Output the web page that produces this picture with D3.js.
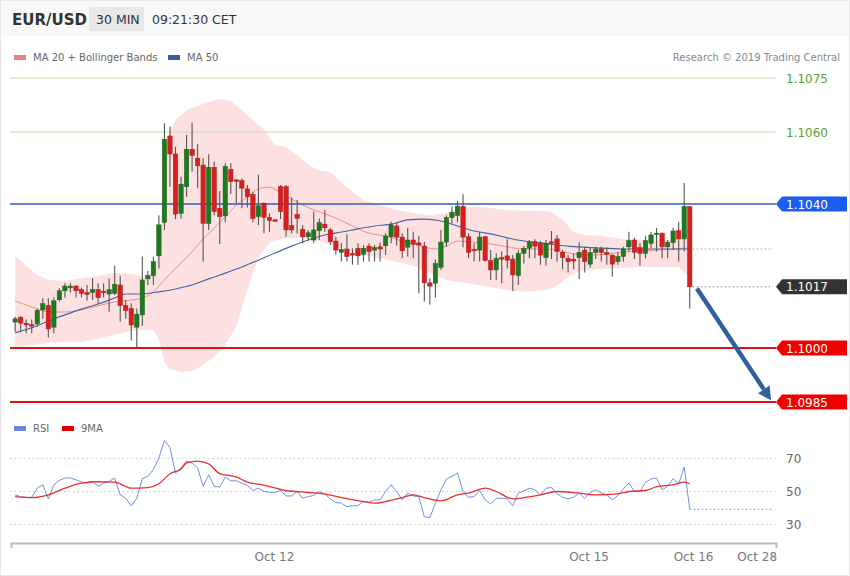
<!DOCTYPE html>
<html><head><meta charset="utf-8">
<script src="https://cdn.jsdelivr.net/npm/d3@7/dist/d3.min.js"></script>
<style>
html,body{margin:0;padding:0;background:#fff;}
svg{display:block;font-family:"DejaVu Sans",sans-serif;}
</style></head>
<body><svg id="c" width="850" height="576"></svg>
<script>
// ---------- DATA ----------
const openP = [
1.10072,1.10085,1.10069,1.10065,1.10067,1.10106,1.10118,1.10058,1.10134,1.10159,
1.10167,1.10172,1.10162,1.10154,1.10154,1.10162,1.10158,1.10150,1.10152,1.10175,
1.10118,1.10110,1.10058,1.10092,1.10192,1.10201,1.10256,1.10349,1.10589,1.10539,
1.10374,1.10448,1.10552,1.10527,1.10508,1.10346,1.10502,1.10388,1.10367,1.10496,
1.10467,1.10465,1.10442,1.10427,1.10365,1.10402,1.10363,1.10356,1.10448,1.10448,
1.10340,1.10371,1.10330,1.10309,1.10300,1.10326,1.10344,1.10328,1.10297,1.10266,
1.10275,1.10263,1.10277,1.10260,1.10283,1.10272,1.10281,1.10284,1.10309,1.10339,
1.10308,1.10280,1.10300,1.10292,1.10283,1.10181,1.10180,1.10224,1.10294,1.10362,
1.10368,1.10393,1.10309,1.10274,1.10272,1.10309,1.10243,1.10217,1.10251,1.10256,
1.10247,1.10201,1.10263,1.10277,1.10295,1.10291,1.10251,1.10295,1.10303,1.10266,
1.10249,1.10246,1.10251,1.10272,1.10233,1.10265,1.10275,1.10265,1.10258,1.10240,
1.10254,1.10281,1.10300,1.10279,1.10263,1.10291,1.10318,1.10319,1.10281,1.10293,
1.10326,1.10303,1.10393];
const highP = [
1.10087,1.10089,1.10079,1.10079,1.10110,1.10138,1.10138,1.10140,1.10166,1.10180,
1.10180,1.10175,1.10168,1.10175,1.10194,1.10180,1.10180,1.10194,1.10229,1.10201,
1.10133,1.10124,1.10110,1.10254,1.10214,1.10254,1.10369,1.10624,1.10615,1.10559,
1.10476,1.10592,1.10626,1.10566,1.10527,1.10538,1.10518,1.10436,1.10513,1.10513,
1.10469,1.10471,1.10453,1.10434,1.10481,1.10405,1.10374,1.10357,1.10453,1.10453,
1.10418,1.10411,1.10342,1.10328,1.10379,1.10360,1.10383,1.10333,1.10309,1.10291,
1.10316,1.10277,1.10291,1.10286,1.10291,1.10286,1.10293,1.10319,1.10351,1.10349,
1.10319,1.10334,1.10323,1.10312,1.10295,1.10194,1.10246,1.10328,1.10369,1.10393,
1.10408,1.10427,1.10319,1.10291,1.10323,1.10311,1.10272,1.10263,1.10268,1.10302,
1.10258,1.10272,1.10283,1.10300,1.10302,1.10297,1.10300,1.10325,1.10314,1.10272,
1.10258,1.10263,1.10294,1.10281,1.10279,1.10281,1.10281,1.10279,1.10260,1.10266,
1.10281,1.10323,1.10306,1.10291,1.10312,1.10323,1.10333,1.10321,1.10300,1.10333,
1.10351,1.10458,1.10393];
const lowP = [
1.10045,1.10044,1.10041,1.10041,1.10059,1.10081,1.10029,1.10041,1.10129,1.10140,
1.10154,1.10140,1.10140,1.10131,1.10133,1.10121,1.10140,1.10101,1.10147,1.10073,
1.10081,1.10021,1.10000,1.10062,1.10175,1.10175,1.10221,1.10328,1.10448,1.10358,
1.10360,1.10420,1.10490,1.10444,1.10240,1.10328,1.10369,1.10289,1.10349,1.10428,
1.10402,1.10388,1.10390,1.10349,1.10342,1.10319,1.10323,1.10354,1.10358,1.10309,
1.10319,1.10319,1.10291,1.10297,1.10291,1.10300,1.10323,1.10286,1.10260,1.10240,
1.10240,1.10231,1.10231,1.10240,1.10240,1.10240,1.10240,1.10258,1.10291,1.10284,
1.10249,1.10254,1.10249,1.10152,1.10129,1.10121,1.10140,1.10217,1.10281,1.10346,
1.10349,1.10280,1.10249,1.10240,1.10240,1.10240,1.10189,1.10189,1.10180,1.10221,
1.10158,1.10175,1.10235,1.10249,1.10249,1.10231,1.10229,1.10247,1.10240,1.10219,
1.10210,1.10219,1.10192,1.10210,1.10223,1.10247,1.10240,1.10231,1.10198,1.10231,
1.10240,1.10268,1.10247,1.10229,1.10249,1.10277,1.10268,1.10249,1.10249,1.10272,
1.10240,1.10268,1.10110];
const closeP = [
1.10081,1.10069,1.10064,1.10062,1.10104,1.10123,1.10053,1.10131,1.10159,1.10172,
1.10172,1.10159,1.10152,1.10149,1.10162,1.10140,1.10155,1.10162,1.10177,1.10118,
1.10104,1.10064,1.10094,1.10189,1.10201,1.10240,1.10342,1.10580,1.10539,1.10372,
1.10455,1.10552,1.10535,1.10506,1.10346,1.10502,1.10379,1.10365,1.10504,1.10462,
1.10464,1.10444,1.10420,1.10360,1.10395,1.10363,1.10354,1.10355,1.10379,1.10328,
1.10328,1.10360,1.10309,1.10320,1.10328,1.10348,1.10334,1.10295,1.10272,1.10274,
1.10254,1.10258,1.10256,1.10277,1.10268,1.10279,1.10275,1.10311,1.10342,1.10308,
1.10270,1.10300,1.10288,1.10286,1.10181,1.10172,1.10235,1.10294,1.10362,1.10377,
1.10394,1.10308,1.10266,1.10271,1.10308,1.10243,1.10217,1.10249,1.10250,1.10244,
1.10203,1.10263,1.10277,1.10294,1.10283,1.10258,1.10291,1.10291,1.10268,1.10251,
1.10240,1.10243,1.10266,1.10240,1.10265,1.10275,1.10265,1.10260,1.10233,1.10254,
1.10275,1.10298,1.10266,1.10263,1.10298,1.10314,1.10319,1.10281,1.10293,1.10325,
1.10303,1.10393,1.10170];

// MA 20: [candle index, price]
const ma20 = [[0,1.10131],[3,1.10114],[6,1.10100],[9,1.10100],[12,1.10106],[15,1.10117],[18,1.10128],[21,1.10133],[23,1.10139],[25,1.10156],[26,1.10172],[28,1.10206],[30,1.10236],[32,1.10267],[34,1.10303],[36,1.10333],[38,1.10364],[40,1.10397],[42,1.10419],[44,1.10442],[46,1.10447],[48,1.10431],[50,1.10414],[52,1.10397],[55,1.10378],[58,1.10361],[61,1.10339],[64,1.10319],[67,1.10311],[70,1.10297],[73,1.10286],[76,1.10275],[78,1.10283],[80,1.10297],[83,1.10294],[86,1.10289],[89,1.10281],[92,1.10275],[95,1.10275],[98,1.10272],[101,1.10261],[104,1.10258],[107,1.10261],[110,1.10267],[113,1.10269],[116,1.10272],[119,1.10275],[122,1.10278]];
// Bollinger bands
const bbUpper = [[0,1.10256],[2,1.10228],[4,1.10203],[6,1.10189],[9,1.10186],[12,1.10194],[15,1.10200],[18,1.10208],[21,1.10206],[23,1.10200],[25,1.10210],[26,1.10272],[27,1.10508],[28,1.10606],[29,1.10633],[31,1.10661],[33,1.10672],[35,1.10683],[37,1.10692],[39,1.10686],[41,1.10661],[43,1.10633],[45,1.10606],[47,1.10564],[49,1.10558],[51,1.10536],[53,1.10508],[55,1.10494],[57,1.10489],[59,1.10461],[61,1.10433],[63,1.10411],[66,1.10397],[69,1.10383],[72,1.10375],[75,1.10369],[78,1.10375],[80,1.10389],[83,1.10392],[86,1.10389],[89,1.10383],[92,1.10381],[95,1.10381],[97,1.10378],[99,1.10356],[101,1.10322],[103,1.10314],[106,1.10311],[110,1.10303],[114,1.10300],[118,1.10300],[121,1.10306],[122,1.10300]];
const bbLower = [[0,1.10003],[3,1.10008],[6,1.10014],[9,1.10017],[12,1.10017],[15,1.10025],[18,1.10036],[21,1.10047],[23,1.10050],[25,1.10050],[26,1.10022],[27,1.09961],[28,1.09942],[30,1.09933],[32,1.09936],[34,1.09953],[36,1.09975],[38,1.10008],[40,1.10060],[42,1.10161],[44,1.10250],[46,1.10294],[48,1.10303],[51,1.10306],[54,1.10300],[57,1.10289],[60,1.10272],[63,1.10258],[66,1.10250],[69,1.10239],[72,1.10228],[75,1.10208],[78,1.10189],[81,1.10181],[84,1.10175],[87,1.10167],[90,1.10158],[93,1.10156],[96,1.10161],[98,1.10172],[100,1.10197],[102,1.10214],[105,1.10219],[109,1.10222],[113,1.10225],[117,1.10225],[120,1.10225],[122,1.10194]];
// MA 50
const ma50 = [[0,1.10042],[3,1.10056],[6,1.10075],[9,1.10092],[12,1.10108],[15,1.10122],[18,1.10139],[20,1.10150],[23,1.10150],[26,1.10156],[29,1.10164],[32,1.10175],[35,1.10192],[38,1.10208],[41,1.10225],[44,1.10244],[47,1.10264],[50,1.10283],[53,1.10300],[56,1.10314],[59,1.10322],[62,1.10331],[65,1.10339],[68,1.10344],[71,1.10356],[74,1.10358],[77,1.10353],[80,1.10339],[83,1.10325],[86,1.10317],[89,1.10306],[92,1.10297],[95,1.10292],[100,1.10283],[105,1.10278],[110,1.10275],[116,1.10275],[122,1.10275]];

// RSI (one value per candle) and its 9-period MA (read at sampled candles)
const rsi = [
48.0,46.9,46.5,46.5,52.0,54.1,45.5,54.1,56.7,58.2,
58.2,57.1,55.7,55.1,56.1,53.1,55.1,56.1,58.2,48.0,
45.9,41.2,45.9,57.8,59.2,63.3,70.4,81.0,76.5,61.2,
64.3,68.4,67.3,64.3,53.1,60.2,53.1,52.7,58.8,56.5,
56.5,55.1,53.7,50.6,52.0,50.0,49.6,49.4,50.6,47.3,
47.3,50.0,45.9,46.9,47.6,50.0,48.6,45.5,43.3,42.9,
40.8,41.4,41.4,44.1,43.5,44.9,44.9,50.0,54.1,50.0,
44.9,49.0,47.3,46.9,34.7,34.1,42.9,51.0,57.6,59.2,
61.2,50.0,46.5,46.9,50.6,44.9,42.4,45.9,45.9,45.5,
41.4,49.0,50.4,52.0,51.0,48.0,52.0,52.4,48.6,46.5,
45.5,46.5,49.0,45.9,49.4,51.0,49.0,48.0,44.9,47.6,
51.6,55.1,50.0,50.0,55.5,57.6,58.2,51.0,53.1,57.8,
54.5,64.9,39.2];
const rsiMA = [[0,46.9],[3,46.3],[6,48.0],[9,52.0],[12,55.1],[15,55.9],[18,55.7],[21,52.0],[24,52.4],[26,54.7],[28,60.8],[30,63.7],[31,67.3],[33,68.4],[35,66.7],[37,60.8],[40,58.8],[42,55.7],[45,53.9],[49,50.6],[53,49.4],[56,48.4],[59,46.3],[63,43.9],[65,42.9],[67,43.9],[70,46.3],[72,48.0],[74,46.3],[77,44.3],[80,48.0],[82,49.0],[85,52.0],[87,50.0],[90,45.5],[92,46.3],[95,48.0],[98,50.0],[102,49.0],[105,48.0],[109,48.6],[111,50.0],[114,50.6],[116,52.9],[119,54.1],[121,55.7],[122,54.7]];
const rsiTicks = [30, 50, 70];

// levels
const resistLevels = [1.1075, 1.1060];
const pivotLevel = 1.1040;
const supportLevels = [1.1000, 1.0985];
const lastClose = 1.1017;
const lastMA = 1.10275;
// projected arrow [candle index, price]
const arrowPts = [[123.3, 1.10165], [136.7, 1.09855]];

// time axis labels at candle index
const timeTickIdx = [46.8, 103.7, 122.6, 134.1];
const timeTickLabels = ["Oct 12", "Oct 15", "Oct 16", "Oct 28"];

// ---------- CHART ----------
const svg = d3.select("#c");
const x = d3.scaleLinear().domain([-0.75, 137.6]).range([11, 776]);
const yP = d3.scaleLinear().domain([1.0985, 1.1075]).range([402, 78]);
const yR = d3.scaleLinear().domain([30, 70]).range([524.5, 458.5]);
const fmt4 = d3.format(".4f");

// header
svg.append("rect").attr("x",0).attr("y",0).attr("width",850).attr("height",36).attr("fill","#f8f8f8");
svg.append("rect").attr("x",0.5).attr("y",0.5).attr("width",849).attr("height",575).attr("fill","none").attr("stroke","#e6e6e6");
svg.append("text").attr("x",12).attr("y",25).attr("font-size",15).attr("font-weight","bold").attr("fill","#333").text("EUR/USD");
svg.append("rect").attr("x",89).attr("y",7).attr("width",55).attr("height",24).attr("fill","#e8e8e8");
svg.append("text").attr("x",96).attr("y",24).attr("font-size",12.5).attr("fill","#333").text("30 MIN");
svg.append("text").attr("x",152).attr("y",24).attr("font-size",12.5).attr("fill","#333").text("09:21:30 CET");

// legend
svg.append("rect").attr("x",14).attr("y",55).attr("width",12).attr("height",5).attr("fill","#f08080");
svg.append("text").attr("x",33).attr("y",61).attr("font-size",10).attr("fill","#666").text("MA 20 + Bollinger Bands");
svg.append("rect").attr("x",168).attr("y",55).attr("width",12).attr("height",5).attr("fill","#3a5f9f");
svg.append("text").attr("x",187).attr("y",61).attr("font-size",10).attr("fill","#666").text("MA 50");
svg.append("text").attr("x",840).attr("y",61).attr("text-anchor","end").attr("font-size",10).attr("fill","#888").text("Research \u00A9 2019 Trading Central");

// bollinger band polygon
const bandPts = bbUpper.concat(bbLower.slice().reverse());
svg.append("path").attr("d", d3.line().x(d=>x(d[0])).y(d=>yP(d[1]))(bandPts) + "Z")
  .attr("fill","#fde0e0").attr("stroke","none");

const lp = d3.line().x(d=>x(d[0])).y(d=>yP(d[1])).curve(d3.curveMonotoneX);
svg.append("path").attr("d", lp(ma20)).attr("fill","none").attr("stroke","#f08c8c").attr("stroke-width",1);
svg.append("path").attr("d", lp(ma50)).attr("fill","none").attr("stroke","#4466aa").attr("stroke-width",1.1);

// level lines
resistLevels.forEach(v=>{
  svg.append("line").attr("x1",10).attr("x2",776).attr("y1",yP(v)).attr("y2",yP(v)).attr("stroke","#b9dfa3").attr("stroke-width",1.2);
  svg.append("text").attr("x",786).attr("y",yP(v)+4.5).attr("font-size",12).attr("fill","#5a9e2a").text(fmt4(v));
});
svg.append("line").attr("x1",10).attr("x2",776).attr("y1",yP(pivotLevel)).attr("y2",yP(pivotLevel)).attr("stroke","#2a5ccc").attr("stroke-width",1.3);
supportLevels.forEach(v=>{
  svg.append("line").attr("x1",10).attr("x2",776).attr("y1",yP(v)).attr("y2",yP(v)).attr("stroke","#e01010").attr("stroke-width",2);
});

// candles
const n = openP.length;
const idx = d3.range(n);
const bw = 4.4;
const cg = svg.append("g");
cg.selectAll("line.w").data(idx).join("line").attr("class","w")
  .attr("x1",i=>x(i)).attr("x2",i=>x(i)).attr("y1",i=>yP(highP[i])).attr("y2",i=>yP(lowP[i]))
  .attr("stroke","#555").attr("stroke-width",1.1);
cg.selectAll("rect.b").data(idx).join("rect").attr("class","b")
  .attr("x",i=>x(i)-bw/2).attr("width",bw)
  .attr("y",i=>yP(Math.max(openP[i],closeP[i])))
  .attr("height",i=>Math.max(1.5, Math.abs(yP(openP[i])-yP(closeP[i]))))
  .attr("fill",i=>closeP[i]>=openP[i]?"#1f7a1f":"#d81e1e")
  .attr("stroke",i=>closeP[i]>=openP[i]?"#17621a":"#b01818").attr("stroke-width",0.5);

// dotted lines to the right
const lastX = x(n-1);
svg.append("line").attr("x1",lastX+3).attr("x2",773).attr("y1",yP(lastMA)).attr("y2",yP(lastMA)).attr("stroke","#8899aa").attr("stroke-dasharray","1.5,2.5");
svg.append("line").attr("x1",lastX+3).attr("x2",773).attr("y1",yP(lastClose)).attr("y2",yP(lastClose)).attr("stroke","#777").attr("stroke-dasharray","1.5,2.5");

// arrow
const a0=[x(arrowPts[0][0]),yP(arrowPts[0][1])], a1=[x(arrowPts[1][0]),yP(arrowPts[1][1])];
const ang = Math.atan2(a1[1]-a0[1], a1[0]-a0[0]);
const hl=13, hw=7;
const base=[a1[0]-hl*Math.cos(ang), a1[1]-hl*Math.sin(ang)];
svg.append("line").attr("x1",a0[0]).attr("y1",a0[1]).attr("x2",base[0]).attr("y2",base[1]).attr("stroke","#30609c").attr("stroke-width",4.5);
svg.append("path").attr("d",`M${a1[0]},${a1[1]}L${base[0]+hw*Math.sin(ang)},${base[1]-hw*Math.cos(ang)}L${base[0]-hw*Math.sin(ang)},${base[1]+hw*Math.cos(ang)}Z`).attr("fill","#30609c");

// tags
function tag(v, color){
  const y = yP(v);
  svg.append("path").attr("d",`M776,${y}L782,${y-7.5}L847,${y-7.5}L847,${y+7.5}L782,${y+7.5}Z`).attr("fill",color);
  svg.append("text").attr("x",786).attr("y",y+4.5).attr("font-size",12).attr("fill","#fff").text(fmt4(v));
}
tag(pivotLevel,"#1a5ef0");
tag(lastClose,"#333333");
supportLevels.forEach(v=>tag(v,"#f20000"));

// ---------- RSI panel ----------
svg.append("rect").attr("x",14).attr("y",426).attr("width",12).attr("height",5).attr("fill","#6688dd");
svg.append("text").attr("x",33).attr("y",432).attr("font-size",10).attr("fill","#666").text("RSI");
svg.append("rect").attr("x",62).attr("y",426).attr("width",12).attr("height",5).attr("fill","#e00000");
svg.append("text").attr("x",81).attr("y",432).attr("font-size",10).attr("fill","#666").text("9MA");

rsiTicks.forEach(v=>{
  svg.append("line").attr("x1",10).attr("x2",776).attr("y1",yR(v)).attr("y2",yR(v)).attr("stroke","#c8c8c8").attr("stroke-dasharray","1.5,3");
  svg.append("text").attr("x",786).attr("y",yR(v)+4.5).attr("font-size",12).attr("fill","#666").text(v);
});
svg.append("path").attr("d", d3.line().x((d,i)=>x(i)).y(d=>yR(d))(rsi)).attr("fill","none").attr("stroke","#7090e0").attr("stroke-width",1);
svg.append("line").attr("x1",lastX).attr("x2",773).attr("y1",yR(rsi[n-1])).attr("y2",yR(rsi[n-1])).attr("stroke","#7090e0").attr("stroke-dasharray","1.5,2.5");
svg.append("path").attr("d", d3.line().x(d=>x(d[0])).y(d=>yR(d[1])).curve(d3.curveMonotoneX)(rsiMA)).attr("fill","none").attr("stroke","#e83030").attr("stroke-width",1.3);

// time axis
const ax = d3.axisBottom(x).tickValues(timeTickIdx).tickFormat((d,i)=>timeTickLabels[i]).tickSizeInner(0).tickSizeOuter(5).tickPadding(9);
const ag = svg.append("g").attr("transform","translate(0,543)").call(ax);
ag.select(".domain").attr("stroke","#bbb").attr("stroke-width",2);
ag.selectAll("text").attr("font-size",12).attr("fill","#777").attr("font-family","DejaVu Sans");
</script></body></html>
